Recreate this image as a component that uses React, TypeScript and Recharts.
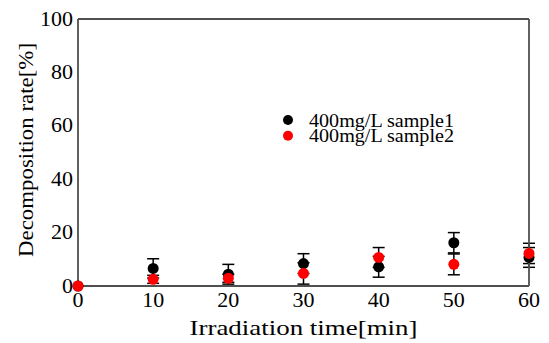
import React from 'react';
import { ScatterChart, Scatter, XAxis, YAxis, ErrorBar, Legend, Label } from 'recharts';

const times = [0, 10, 20, 30, 40, 50, 60];
const sample1 = [0, 6.6, 4.4, 8.4, 7.2, 16.2, 10.7];
const sample1Err = [0, 3.6, 3.7, 3.7, 3.9, 3.8, 3.7];
const sample2 = [0, 2.5, 2.9, 4.7, 10.7, 8.1, 12.2];
const sample2Err = [0, 1.5, 1.5, 4.0, 3.7, 3.9, 3.8];
const xTicks = [0, 10, 20, 30, 40, 50, 60];
const xMinorTicks = [0, 5, 10, 15, 20, 25, 30, 35, 40, 45, 50, 55, 60];
const yTicks = [0, 20, 40, 60, 80, 100];
const yMinorTicks = [0, 10, 20, 30, 40, 50, 60, 70, 80, 90, 100];
const seriesNames = ['400mg/L sample1', '400mg/L sample2'];
const seriesColors = ['#000000', '#ff0000'];

const rows1 = times.map((t, i) => ({ x: t, y: sample1[i], err: sample1Err[i] }));
const rows2 = times.map((t, i) => ({ x: t, y: sample2[i], err: sample2Err[i] }));

const FONT = 'Liberation Serif';
const AXIS = '#505050';
const AW = 1.8;

const dot = (p: any) => <circle cx={p.cx} cy={p.cy} r={5.5} fill={p.fill} />;

const inwardTick = (side: 'bottom' | 'top' | 'left' | 'right', majorStep: number) => (p: any) => {
  const v = p.payload.value;
  const L = v % majorStep === 0 ? 9.5 : 5;
  const { x, y } = p;
  let x2 = x, y2 = y;
  if (side === 'bottom') y2 = y - L;
  if (side === 'top') y2 = y + L;
  if (side === 'left') x2 = x + L;
  if (side === 'right') x2 = x - L;
  return <line x1={x} y1={y} x2={x2} y2={y2} stroke={AXIS} strokeWidth={AW} />;
};

const xTickLabel = (p: any) => (
  <text x={p.x} y={p.y + 21} textAnchor="middle" fontFamily={FONT} fontSize={22} fill="#000">
    {p.payload.value}
  </text>
);

const yTickLabel = (p: any) => (
  <text x={p.x} y={p.y + 6.5} textAnchor="end" fontFamily={FONT} fontSize={22} fill="#000">
    {p.payload.value}
  </text>
);

const legendContent = (props: any) => {
  const payload = props.payload || [];
  return (
    <svg width={190} height={44} style={{ overflow: 'visible' }}>
      {payload.map((e: any, i: number) => (
        <g key={i}>
          <circle cx={10} cy={12 + i * 15.7} r={5} fill={e.color} />
          <text x={31} y={18.7 + i * 15.7} fontFamily={FONT} fontSize={18} fill="#000" textLength={145} lengthAdjust="spacingAndGlyphs">
            {e.value}
          </text>
        </g>
      ))}
    </svg>
  );
};

export default function App() {
  return (
    <ScatterChart width={541} height={335} margin={{ top: 11, right: 20, bottom: 0, left: 0 }}>
      <XAxis
        xAxisId="main"
        type="number"
        dataKey="x"
        domain={[0, 60]}
        ticks={xTicks}
        interval={0}
        height={57}
        tickLine={false}
        tickSize={0}
        tickMargin={0}
        axisLine={{ stroke: AXIS, strokeWidth: AW }}
        tick={xTickLabel}
      >
        <Label
          content={(p: any) => {
            const vb = p.viewBox;
            return (
              <text x={vb.x + vb.width / 2} y={vb.y + 49} textAnchor="middle" fontFamily={FONT} fontSize={22} fill="#000" textLength={228} lengthAdjust="spacingAndGlyphs">
                Irradiation time[min]
              </text>
            );
          }}
        />
      </XAxis>
      <XAxis xAxisId="bt" type="number" dataKey="x" domain={[0, 60]} ticks={xMinorTicks} interval={0} mirror orientation="bottom" axisLine={false} tickLine={false} tickSize={0} tickMargin={0} tick={inwardTick('bottom', 10)} />
      <XAxis xAxisId="tp" type="number" dataKey="x" domain={[0, 60]} ticks={xMinorTicks} interval={0} mirror orientation="top" axisLine={{ stroke: AXIS, strokeWidth: AW }} tickLine={false} tickSize={0} tickMargin={0} tick={inwardTick('top', 10)} />
      <YAxis
        yAxisId="main"
        type="number"
        dataKey="y"
        domain={[0, 100]}
        ticks={yTicks}
        interval={0}
        width={70}
        tickLine={false}
        tickSize={0}
        tickMargin={5}
        axisLine={{ stroke: AXIS, strokeWidth: AW }}
        tick={yTickLabel}
      >
        <Label
          content={(p: any) => {
            const vb = p.viewBox;
            const cx = 24.5;
            const cy = vb.y + vb.height / 2 - 2.5;
            return (
              <text x={cx} y={cy} transform={`rotate(-90, ${cx}, ${cy})`} textAnchor="middle" fontFamily={FONT} fontSize={22} fill="#000" textLength={214} lengthAdjust="spacingAndGlyphs">
                Decomposition rate[%]
              </text>
            );
          }}
        />
      </YAxis>
      <YAxis yAxisId="lt" type="number" dataKey="y" domain={[0, 100]} ticks={yMinorTicks} interval={0} mirror orientation="left" axisLine={false} tickLine={false} tickSize={0} tickMargin={0} tick={inwardTick('left', 20)} />
      <YAxis yAxisId="rt" type="number" dataKey="y" domain={[0, 100]} ticks={yMinorTicks} interval={0} mirror orientation="right" axisLine={{ stroke: AXIS, strokeWidth: AW }} tickLine={false} tickSize={0} tickMargin={0} tick={inwardTick('right', 20)} />
      <Legend
        layout="vertical"
        align="center"
        verticalAlign="middle"
        content={legendContent}
        wrapperStyle={{ left: 270, top: 100, width: 190, height: 44 }}
      />
      <Scatter name={seriesNames[0]} data={rows1} xAxisId="main" yAxisId="main" fill={seriesColors[0]} shape={dot} isAnimationActive={false}>
        <ErrorBar dataKey="err" direction="y" width={6} stroke="#000" strokeWidth={1.5} isAnimationActive={false} />
      </Scatter>
      <Scatter name={seriesNames[1]} data={rows2} xAxisId="main" yAxisId="main" fill={seriesColors[1]} shape={dot} isAnimationActive={false}>
        <ErrorBar dataKey="err" direction="y" width={6} stroke="#000" strokeWidth={1.5} isAnimationActive={false} />
      </Scatter>
    </ScatterChart>
  );
}
